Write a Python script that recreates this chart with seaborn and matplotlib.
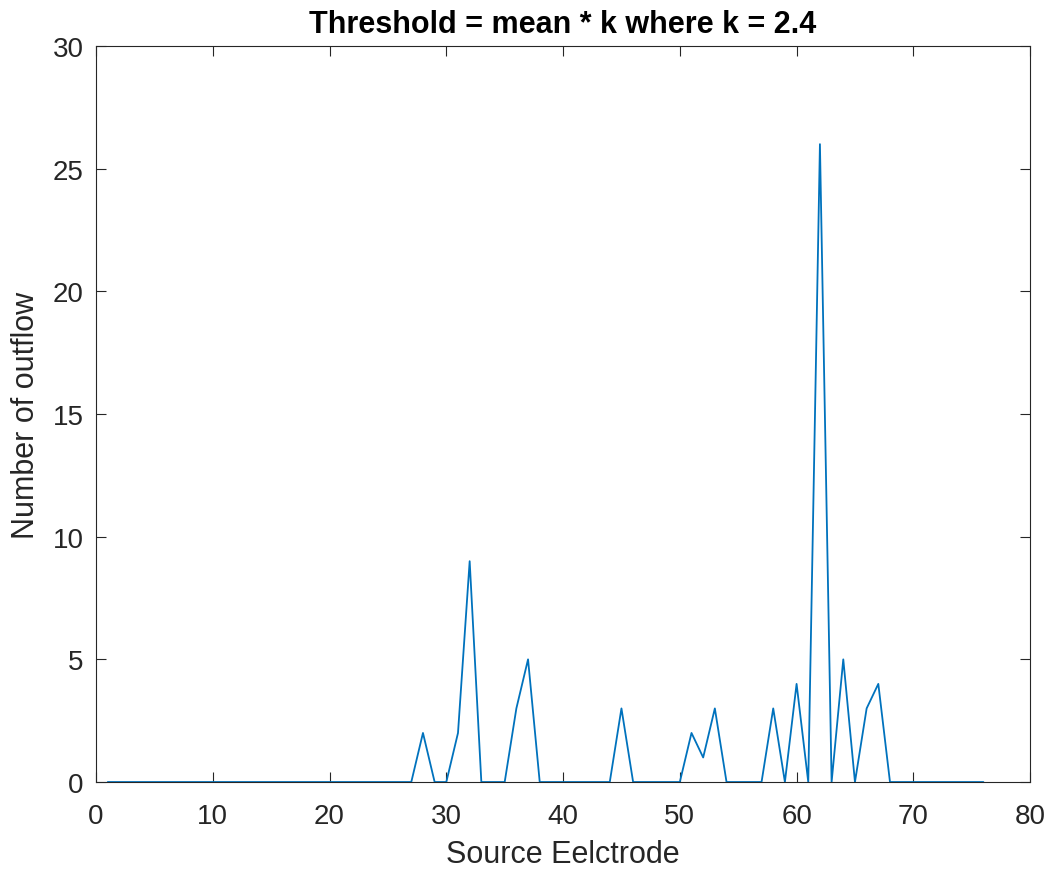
import numpy as np
import pandas as pd
import matplotlib
matplotlib.use("Agg")
import matplotlib.pyplot as plt
import seaborn as sns

# Source electrode indices and number of outflow events per electrode
electrodes = list(range(1, 77))
outflow_nonzero = {28: 2, 31: 2, 32: 9, 36: 3, 37: 5, 45: 3,
                   51: 2, 52: 1, 53: 3, 58: 3, 60: 4, 62: 26,
                   64: 5, 66: 3, 67: 4}
outflow = [outflow_nonzero.get(e, 0) for e in electrodes]

x_ticks = [0, 10, 20, 30, 40, 50, 60, 70, 80]
y_ticks = [0, 5, 10, 15, 20, 25, 30]

df = pd.DataFrame({"electrode": electrodes, "outflow": outflow})

sns.set_style("ticks")
plt.rcParams["font.family"] = ["Liberation Sans", "DejaVu Sans"]

text_color = "#262626"
fig = plt.figure(figsize=(10.59, 8.79), dpi=100)
ax = fig.add_axes([0.0907, 0.1092, 0.882, 0.8373])

sns.lineplot(data=df, x="electrode", y="outflow", ax=ax,
             color="#0072BD", linewidth=1.3)

ax.set_xlim(0, 80)
ax.set_ylim(0, 30)
ax.set_xticks(x_ticks)
ax.set_yticks(y_ticks)
ax.tick_params(direction="in", length=7, width=0.8, colors=text_color,
               labelsize=20, top=True, right=True)
ax.tick_params(axis="x", pad=15)
ax.tick_params(axis="y", pad=9)
for side in ["left", "right", "top", "bottom"]:
    ax.spines[side].set_visible(True)
    ax.spines[side].set_color(text_color)
    ax.spines[side].set_linewidth(0.8)

ax.set_xlabel("Source Eelctrode", fontsize=22, color=text_color, labelpad=7)
ax.set_ylabel("Number of outflow", fontsize=22, color=text_color, labelpad=8)
ax.set_title("Threshold = mean * k where k = 2.4", fontsize=22,
             fontweight="bold", color="black", pad=10)

fig.savefig("out.png", dpi=100)
